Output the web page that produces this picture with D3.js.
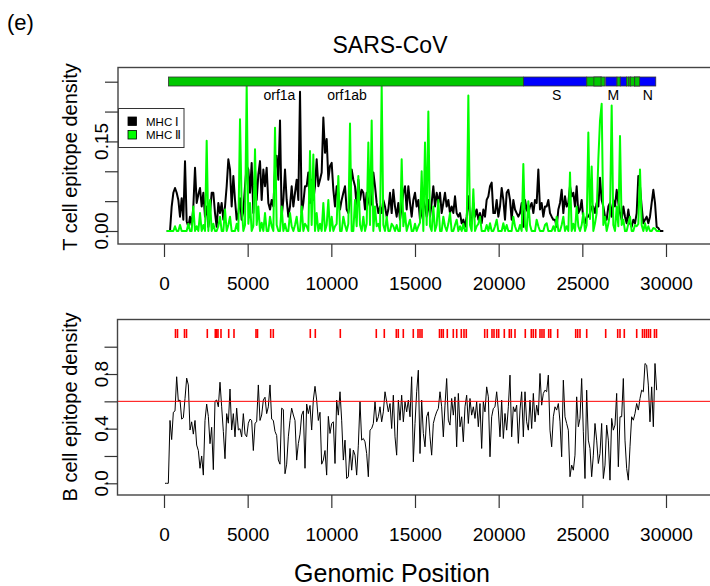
<!DOCTYPE html>
<html>
<head>
<meta charset="utf-8">
<script src="https://cdn.jsdelivr.net/npm/d3@7"></script>
<style>
  body { margin: 0; background: #fff; }
  svg text { font-family: "Liberation Sans", Arial, Helvetica, sans-serif; fill: #000; }
</style>
</head>
<body>
<script>
// ---- data ----
// T cell epitope density, sliding windows along the genome
const tStart = 160, tStep = 99.6;
const mhc1 = [
  0,0,0,0.041,0.064,0.072,0.064,0.052,0.024,0.055,
  0.019,0.117,0.016,0.007,0.024,0.010,0.041,0.106,0.047,0.061,
  0.072,0.041,0.064,0.024,0.041,0.007,0.030,0.064,0.064,0.030,
  0.007,0.047,0.030,0.047,0.019,0.041,0.075,0.120,0.103,0.041,
  0.092,0.052,0.019,0.030,0.055,0.019,0.033,0.075,0.109,0.103,
  0.064,0.114,0.030,0.103,0.052,0.095,0.117,0.052,0.103,0.075,
  0.106,0.047,0.036,0.052,0.041,0.103,0.126,0.086,0.185,0.024,
  0.052,0.103,0.052,0.024,0.041,0.075,0.041,0.064,0.086,0.052,
  0.233,0.030,0.047,0.075,0.075,0.098,0.047,0.086,0.052,0.075,
  0.120,0.075,0.086,0.098,0.190,0.131,0.154,0.086,0.109,0.114,
  0.069,0.041,0.075,0.064,0.036,0.052,0.064,0.075,0.036,0.030,
  0.052,0.103,0.086,0.075,0.041,0.086,0.052,0.069,0.064,0.036,
  0.064,0.052,0.041,0.047,0.098,0.075,0.047,0.030,0.041,0.030,
  0.052,0.041,0.024,0.036,
  0.064,0.030,0.069,0.041,0.024,0.047,0.019,0.041,0.064,0.075,
  0.036,0.075,0.047,0.024,0.052,0.064,0.041,0.052,0.019,0.030,
  0.052,0.041,0.024,0.052,0.024,0.047,0.075,0.041,0.064,0.047,
  0.064,0.030,0.047,0.064,0.041,0.052,0.030,0.041,0.030,0.058,
  0.030,0.024,0.030,0.013,0.019,0.007,0.024,0.058,0.024,0.013,
  0.047,0.024,0.036,0.019,0.030,0.013,0.036,0.024,0.052,0.058,
  0.075,0.081,0.030,0.030,0.052,0.024,0.041,0.072,0.052,0.019,
  0.064,0.069,0.052,0.019,0.052,0.036,0.030,0.024,0.030,0.047,
  0.007,0.052,0.036,0.030,0.041,0.047,0.030,0.052,0.047,0.103,
  0.036,0.047,0.024,0.041,0.041,0.052,0.030,0.024,0.019,0.019,
  0.007,0.036,0.047,0.069,0.030,0.058,0.041,0.047,0.075,0.058,
  0.064,0.041,0.075,0.030,0.036,0.052,0.019,0.013,0.024,0.024,
  0.030,0.041,0.041,0.030,0.047,0.041,0.089,0.052,0.041,0.024,
  0.019,0.041,0.047,0.024,0.052,0.041,0.069,0.047,0.030,0.019,
  0.041,0.024,0.013,0.036,0.013,0.007,0.019,0.013,0.030,0.092,
  0.075,0.041,0.013,0.019,0.024,0.013,0.024,0.047,0.069,0.047,
  0.007,0.005,0,0,0
];
const mhc2 = [
  0,0,0,0,0,0.008,0,0,0.01,0,
  0,0,0,0.012,0,0,0.041,0,0.008,0,
  0.03,0,0.01,0,0.151,0,0.052,0,0.012,0,
  0,0.008,0.024,0,0,0.036,0,0.01,0.024,0,
  0,0,0.012,0,0.187,0.041,0,0.01,0.244,0.012,
  0.047,0,0.008,0.137,0.01,0.041,0,0.014,0,0.03,
  0,0,0.024,0.008,0,0.173,0.01,0,0,0.041,
  0,0.012,0,0,0.03,0.008,0,0.01,0.024,0,
  0,0.041,0,0.012,0.008,0,0.134,0.01,0.128,0,
  0.03,0,0.012,0,0.047,0,0.01,0.052,0,0.024,
  0,0.008,0.012,0.092,0,0,0.024,0.01,0,0.012,
  0.18,0,0,0.052,0.008,0.092,0.01,0,0.024,0,
  0.012,0.148,0.01,0.185,0,0.041,0.008,0.012,0,0.244,
  0.01,0,0.024,0,0,0.012,0.008,0,0.01,0,
  0,0.12,0.008,0.03,0,0.01,0.019,0,0,0.012,
  0,0.008,0.014,0.1,0,0.148,0.01,0.2,0.008,0,
  0.041,0,0.01,0.052,0,0,0.024,0.008,0,0.012,
  0.03,0,0,0.01,0.019,0,0.008,0,0.012,0,
  0,0.227,0.01,0,0.07,0,0.008,0.012,0.024,0,
  0,0,0.01,0,0.013,0,0,0.008,0.019,0,
  0,0,0.013,0,0.01,0,0,0,0.024,0.008,
  0,0,0.01,0,0.112,0.008,0,0.05,0.01,0,
  0,0,0.019,0.008,0,0,0,0.01,0.013,0,
  0,0,0.008,0,0.024,0,0,0.01,0.024,0,
  0.008,0,0.098,0,0.012,0,0.041,0.008,0,0.01,
  0.03,0,0.01,0.165,0.02,0.108,0,0.013,0.03,0.12,
  0.185,0.213,0.01,0.024,0,0.012,0.03,0.21,0.01,0,
  0.041,0.008,0.159,0.01,0.019,0,0,0.012,0.024,0,
  0,0.01,0.008,0.012,0.103,0.01,0,0.013,0,0.008,
  0,0,0.005,0.004,0,0,0
];

// B cell epitope density
const bStart = 60, bStep = 99.6;
const bcell = [
  0,0,0,0.46,0.32,0.52,0.53,0.78,0.60,0.61,
  0.47,0.48,0.62,0.77,0.72,0.39,0.45,0.36,0.46,0.28,
  0.24,0.11,0.2,0.06,0.46,0.58,0.49,0.29,0.41,0.1,
  0.6,0.61,0.56,0.74,0.56,0.38,0.18,0.51,0.44,0.69,
  0.39,0.51,0.34,0.55,0.39,0.40,0.34,0.51,0.36,0.34,
  0.44,0.47,0.46,0.24,0.44,0.45,0.72,0.46,0.50,0.61,
  0.63,0.51,0.56,0.72,0.47,0.46,0.38,0.35,0.17,0.14,
  0.55,0.54,0.07,0.14,0.34,0.46,0.55,0.50,0.46,0.17,
  0.29,0.36,0.50,0.53,0.11,0.58,0.51,0.57,0.39,0.61,
  0.71,0.61,0.46,0.52,0.14,0.17,0.24,0.06,0.49,
  0.365,0.438,0.45,0.145,0.609,0.499,0.67,0.462,0.17,0.316,
  0.035,0.048,0.255,0.096,0.243,0.206,0.06,0.279,0.597,0.316,
  0.328,0.304,0.218,0.048,0.389,0.401,0.438,0.597,0.45,0.487,
  0.56,0.45,0.523,0.67,0.597,0.523,0.584,0.401,0.645,0.34,
  0.206,0.609,0.462,0.645,0.45,0.597,0.523,0.609,0.487,0.78,
  0.157,0.438,0.67,0.828,0.218,0.609,0.365,0.267,0.487,0.523,
  0.34,0.206,0.438,0.487,0.523,0.548,0.67,0.56,0.34,0.572,
  0.767,0.462,0.426,0.621,0.499,0.633,0.267,0.658,0.414,0.487,
  0.304,0.56,0.645,0.438,0.621,0.499,0.56,0.475,0.597,0.414,
  0.584,0.255,0.597,0.523,0.706,0.633,0.194,0.487,0.548,
  0.56,0.67,0.536,0.34,0.609,0.328,0.511,0.389,0.56,0.792,
  0.34,0.56,0.523,0.572,0.292,0.536,0.67,0.34,0.67,0.45,
  0.389,0.609,0.401,0.658,0.45,0.572,0.499,0.804,0.572,0.658,
  0.682,0.67,0.792,0.389,0.267,0.487,0.56,0.536,0.584,0.45,
  0.194,0.755,0.487,0.438,0.389,0.048,0.133,0.096,0.206,0.633,
  0.414,0.475,0.767,0.377,0.035,0.682,0.316,0.255,0.048,0.206,
  0.438,0.316,0.145,0.218,0.438,0.035,0.133,0.426,0.316,0.023,
  0.475,0.389,0.426,0.658,0.121,0.487,0.487,0.767,0.316,0.109,
  0.023,0.267,0.487,0.462,0.511,0.584,0.536,0.621,0.682,0.67,
  0.877,0.865,0.719,0.45,0.706,0.414,0.877,0.682
];
const bThreshold = 0.6;

// predicted B cell epitope positions (red ticks)
const bEpitopes = [
  687,807,1225,1345,2588,3066,3149,3227,3406,3866,4183,5498,5588,6376,6532,
  8743,9042,10536,12687,13165,13883,14002,14301,14898,15179,15299,15418,
  16464,16583,16691,16930,17289,17492,17767,17928,18065,19165,19321,19601,
  19721,19882,20002,20337,20635,20755,20976,21591,21950,22069,22213,22470,
  22589,22709,22990,23109,23527,24603,24722,24860,25261,26396,27113,27251,
  27508,28249,28595,28715,28834,28954,29073,29312,29432
];

// genome map: [name, start, end, kind]
const genes = [
  ["orf1ab", 265, 21485, "ns"],
  ["S", 21492, 25259, "st"],
  ["ORF3a", 25268, 26092, "ns"],
  ["ORF3b", 25689, 26153, "ns"],
  ["E", 26117, 26347, "ns"],
  ["M", 26398, 27063, "st"],
  ["ORF6", 27074, 27265, "ns"],
  ["ORF7a", 27273, 27641, "st"],
  ["ORF7b", 27638, 27772, "ns"],
  ["ORF8a", 27779, 27898, "ns"],
  ["ORF8b", 27864, 28118, "ns"],
  ["N", 28120, 29388, "st"],
  ["ORF9b", 28130, 28426, "ns"]
];
const geneLabels = [["orf1a", 6900], ["orf1ab", 10936], ["S", 23467], ["M", 26851], ["N", 28906]];

const xTicks = [0, 5000, 10000, 15000, 20000, 25000, 30000];
const tTicks = [0, 0.05, 0.10, 0.15, 0.20, 0.25];
const tTickLabels = [0, 0.15];
const bTicks = [0, 0.2, 0.4, 0.6, 0.8, 1.0];
const bTickLabels = [0, 0.4, 0.8];

// ---- drawing ----
const w = 710, h = 586;
const svg = d3.select("body").append("svg")
    .attr("width", w)
    .attr("height", h);

const x = d3.scaleLinear().domain([0, 30000]).range([164, 666]);
const yT = d3.scaleLinear().domain([0, 0.25]).range([231, 81.7]);
const yB = d3.scaleLinear().domain([0, 1]).range([483.3, 346.7]);

const green = "#00ff00", geneGreen = "#00c800", geneBlue = "#0000ff";

// panel boxes
const topBox = {x: 118, y: 67.5, b: 244};
const botBox = {x: 117.5, y: 319.5, b: 495};

// T cell lines
const tLine = d3.line()
    .x((d, i) => x(tStart + i * tStep))
    .y(d => yT(d));

svg.append("path")
    .attr("d", tLine(mhc1))
    .attr("fill", "none")
    .attr("stroke", "#000")
    .attr("stroke-width", 2)
    .attr("stroke-linejoin", "round");

svg.append("path")
    .attr("d", tLine(mhc2))
    .attr("fill", "none")
    .attr("stroke", green)
    .attr("stroke-width", 2)
    .attr("stroke-linejoin", "round");

// genome bar
svg.selectAll(".gene")
    .data(genes)
    .enter()
    .append("rect")
    .attr("class", "gene")
    .attr("x", d => x(d[1]))
    .attr("y", 77)
    .attr("width", d => x(d[2]) - x(d[1]))
    .attr("height", 9)
    .attr("fill", d => d[3] == "st" ? geneBlue : geneGreen)
    .attr("stroke", "#333")
    .attr("stroke-width", 0.8);

svg.selectAll(".glab")
    .data(geneLabels)
    .enter()
    .append("text")
    .attr("class", "glab")
    .attr("x", d => x(d[1]))
    .attr("y", 100)
    .attr("text-anchor", "middle")
    .attr("font-size", 14)
    .text(d => d[0]);

// legend
const lg = svg.append("g");
lg.append("rect")
    .attr("x", 118.5).attr("y", 108.5)
    .attr("width", 65.5).attr("height", 39)
    .attr("fill", "#fff").attr("stroke", "#333");
[["MHC Ⅰ", "#000"], ["MHC Ⅱ", green]].forEach((d, i) => {
    lg.append("rect")
        .attr("x", 128).attr("y", 117 + i * 13.5)
        .attr("width", 8.5).attr("height", 8.5)
        .attr("fill", d[1]).attr("stroke", "#000").attr("stroke-width", 0.8);
    lg.append("text")
        .attr("x", 146).attr("y", 125.5 + i * 13.5)
        .attr("font-size", 11.5)
        .text(d[0]);
});

// B cell line
const bLine = d3.line()
    .x((d, i) => x(bStart + i * bStep))
    .y(d => yB(d));

svg.append("path")
    .attr("d", bLine(bcell))
    .attr("fill", "none")
    .attr("stroke", "#000")
    .attr("stroke-width", 1);

svg.append("line")
    .attr("x1", botBox.x).attr("x2", w)
    .attr("y1", yB(bThreshold)).attr("y2", yB(bThreshold))
    .attr("stroke", "#ff0000")
    .attr("stroke-width", 1);

svg.selectAll(".epi")
    .data(bEpitopes)
    .enter()
    .append("line")
    .attr("class", "epi")
    .attr("x1", d => x(d)).attr("x2", d => x(d))
    .attr("y1", 329).attr("y2", 338)
    .attr("stroke", "#ff0000")
    .attr("stroke-width", 1.6);

// boxes
[topBox, botBox].forEach(p => {
    svg.append("rect")
        .attr("x", p.x).attr("y", p.y)
        .attr("width", w + 10 - p.x).attr("height", p.b - p.y)
        .attr("fill", "none")
        .attr("stroke", "#444")
        .attr("stroke-width", 1.4);
});

// axes
function xAxis(yPos) {
    const g = svg.append("g")
        .attr("transform", `translate(0,${yPos})`)
        .call(d3.axisBottom(x).tickValues(xTicks).tickSize(13).tickFormat(d3.format("d")));
    g.select(".domain").remove();
    g.selectAll("line").attr("stroke", "#333").attr("stroke-width", 1.2);
    g.selectAll("text")
        .attr("y", 33)
        .attr("font-size", 19)
        .attr("font-family", "Liberation Sans, Arial, sans-serif")
        .attr("fill", "#000");
}
xAxis(topBox.b);
xAxis(botBox.b);

function yAxis(scale, ticks, labels, fmt, xPos) {
    const g = svg.append("g")
        .attr("transform", `translate(${xPos},0)`)
        .call(d3.axisLeft(scale).tickValues(ticks).tickSize(13).tickFormat(""));
    g.select(".domain").remove();
    g.selectAll("line").attr("stroke", "#333").attr("stroke-width", 1.2);
    g.selectAll(".ylab")
        .data(labels)
        .enter()
        .append("text")
        .attr("class", "ylab")
        .attr("transform", d => `translate(-10,${scale(d)}) rotate(-90)`)
        .attr("text-anchor", "middle")
        .attr("font-size", 19)
        .attr("font-family", "Liberation Sans, Arial, sans-serif")
        .attr("fill", "#000")
        .text(d => fmt(d));
}
yAxis(yT, tTicks, tTickLabels, d3.format(".2f"), topBox.x);
yAxis(yB, bTicks, bTickLabels, d3.format(".1f"), botBox.x);

// titles and labels
svg.append("text")
    .attr("x", 7).attr("y", 30)
    .attr("font-size", 22)
    .text("(e)");

svg.append("text")
    .attr("x", 390).attr("y", 53)
    .attr("text-anchor", "middle")
    .attr("font-size", 23)
    .text("SARS-CoV");

svg.append("text")
    .attr("transform", "translate(77,157) rotate(-90)")
    .attr("text-anchor", "middle")
    .attr("font-size", 20)
    .text("T cell epitope density");

svg.append("text")
    .attr("transform", "translate(77,407) rotate(-90)")
    .attr("text-anchor", "middle")
    .attr("font-size", 20)
    .text("B cell epitope density");

svg.append("text")
    .attr("x", 392).attr("y", 582)
    .attr("text-anchor", "middle")
    .attr("font-size", 25)
    .text("Genomic Position");
</script>
</body>
</html>
